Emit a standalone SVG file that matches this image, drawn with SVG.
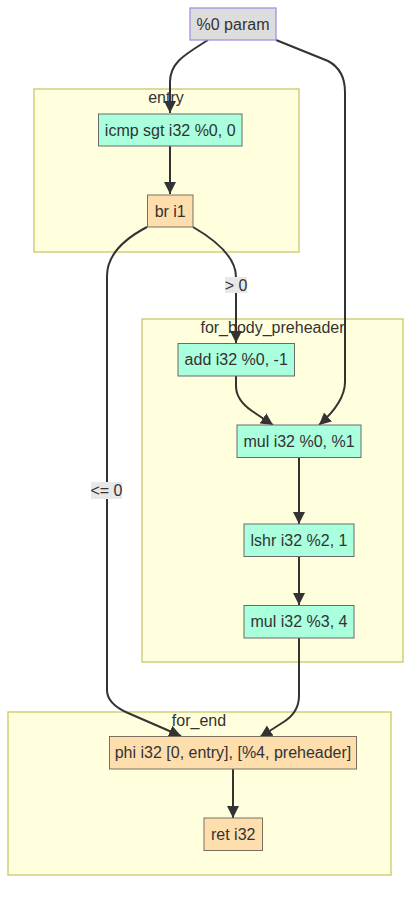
<svg xmlns="http://www.w3.org/2000/svg" width="419" height="899" viewBox="0 0 419 899">
<style>
text{font-family:"Liberation Sans",Arial,sans-serif;font-size:16px;fill:#333;text-anchor:middle}
.cl{fill:#ffffde;stroke:#c8c86a;stroke-width:1.3}
.g{fill:#aaffdd;stroke:#6a6a6a;stroke-width:1}
.o{fill:#ffdead;stroke:#7a7060;stroke-width:1}
.p{fill:#dddddd;stroke:#a890e0;stroke-width:1.3}
.e{fill:none;stroke:#333;stroke-width:2}
.lb{fill:#e8e8e8}
</style>
<defs>
<marker id="ah" viewBox="0 0 10 10" refX="10" refY="5" markerWidth="12" markerHeight="12" markerUnits="userSpaceOnUse" orient="auto">
<path d="M0,0 L10,5 L0,10 z" fill="#333"/>
</marker>
</defs>
<g id="clusters">
<g id="cluster-entry"><rect class="cl" x="34" y="89" width="265" height="163"/><text x="166" y="102.5">entry</text></g>
<g id="cluster-for_body_preheader"><rect class="cl" x="142" y="319" width="261" height="343"/><text x="272.5" y="332.5">for_body_preheader</text></g>
<g id="cluster-for_end"><rect class="cl" x="8" y="712" width="383" height="163"/><text x="199" y="725.5">for_end</text></g>
</g>
<g id="edges">
<path class="e" marker-end="url(#ah)" d="M208,40 C186,54 170,62 170,82 L170,113"/>
<path class="e" marker-end="url(#ah)" d="M170,146 L170,194"/>
<path class="e" marker-end="url(#ah)" d="M276,40 L328,61 Q345,70 345,92 L345,382 Q345,402 319,425"/>
<path class="e" marker-end="url(#ah)" d="M193,227 Q236,252 236,277 L236,343"/>
<path class="e" marker-end="url(#ah)" d="M147,227 Q107,248 107,276 L107,690 Q107,704 128,713 L181,736"/>
<path class="e" marker-end="url(#ah)" d="M236,376 L236,386 Q236,400 252,411 L273,425"/>
<path class="e" marker-end="url(#ah)" d="M299,457 L299,524"/>
<path class="e" marker-end="url(#ah)" d="M299,557 L299,605"/>
<path class="e" marker-end="url(#ah)" d="M299,638 L299,696 Q299,713 282,723 L260,737"/>
<path class="e" marker-end="url(#ah)" d="M233,769 L233,818"/>
<g id="edge-labels">
<rect class="lb" x="225" y="277" width="22" height="16"/><text x="236" y="290.5">&gt; 0</text>
<rect class="lb" x="91" y="482" width="31" height="17"/><text x="106.5" y="496">&lt;= 0</text>
</g>
</g>
<g id="n-param"><rect class="p" x="190" y="8" width="86" height="32"/><text x="233" y="29.5">%0 param</text></g>
<g id="n-icmp"><rect class="g" x="98.5" y="114" width="143.5" height="32"/><text x="170.2" y="135.5">icmp sgt i32 %0, 0</text></g>
<g id="n-br"><rect class="o" x="147.5" y="195" width="45.5" height="32"/><text x="170.2" y="216.5">br i1</text></g>
<g id="n-add"><rect class="g" x="178" y="343.5" width="116.5" height="32.5"/><text x="236.2" y="365">add i32 %0, -1</text></g>
<g id="n-mul1"><rect class="g" x="237" y="425" width="124" height="32.5"/><text x="299" y="446.5">mul i32 %0, %1</text></g>
<g id="n-lshr"><rect class="g" x="244" y="524" width="110" height="32.5"/><text x="299" y="545.5">lshr i32 %2, 1</text></g>
<g id="n-mul2"><rect class="g" x="244" y="605.5" width="110" height="32.5"/><text x="299" y="627">mul i32 %3, 4</text></g>
<g id="n-phi"><rect class="o" x="109.5" y="736.5" width="247" height="32.5"/><text x="233" y="758">phi i32 [0, entry], [%4, preheader]</text></g>
<g id="n-ret"><rect class="o" x="204" y="818" width="58.5" height="32.5"/><text x="233.2" y="839.5">ret i32</text></g>
</svg>
